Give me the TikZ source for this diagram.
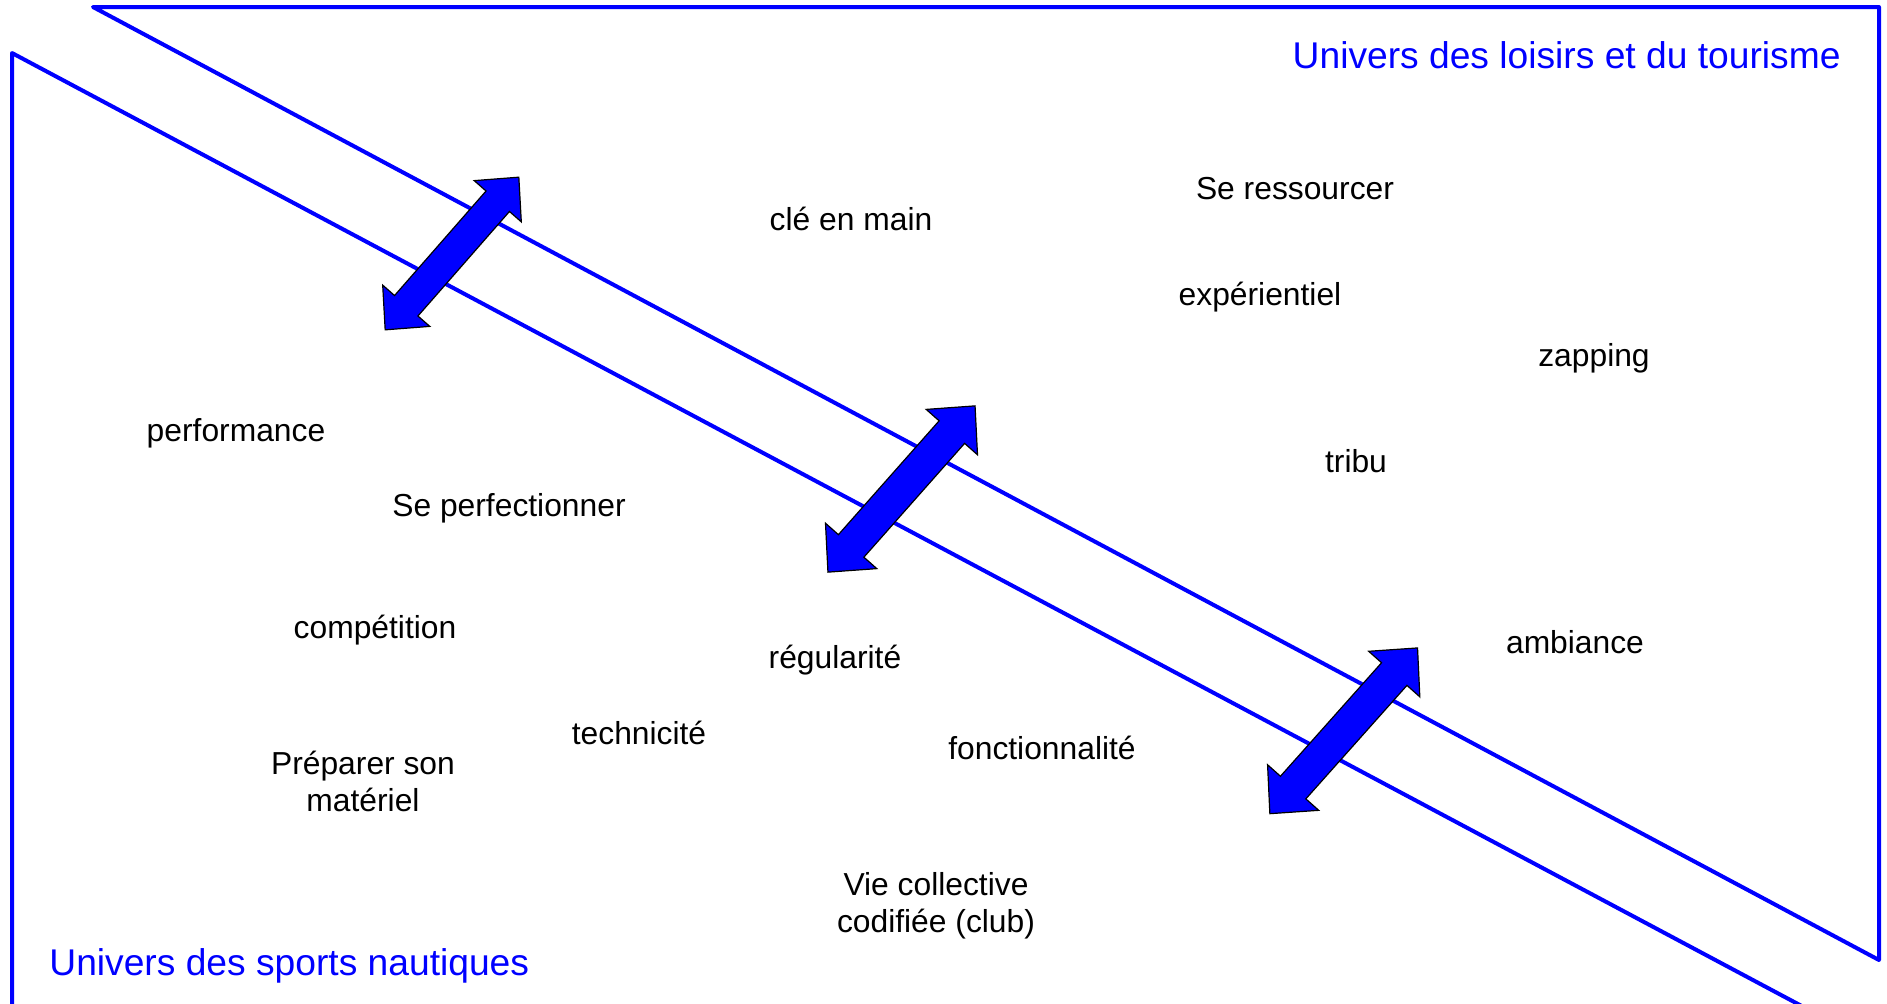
\documentclass[tikz,border=0pt]{standalone}
\usepackage{fontspec}
\setmainfont{Liberation Sans}
\definecolor{pblue}{RGB}{0,0,255}
\tikzset{
  frame/.style={draw=pblue, line width=2pt, line join=round},
  arrowshape/.style={fill=pblue, draw=black, line width=0.6pt, line join=miter},
  word/.style={inner sep=0pt, align=center, font=\fontsize{15.9}{18.5}\selectfont},
  title/.style={inner sep=0pt, text=pblue, font=\fontsize{18.6}{22}\selectfont},
  dblarrow/.pic={
    \path[arrowshape] (111,0) -- (76,34.25) -- (76,17) -- (-76,17) -- (-76,34.25)
      -- (-111,0) -- (-76,-34.25) -- (-76,-17) -- (76,-17) -- (76,-34.25) -- cycle;
  }
}
\begin{document}
\begin{tikzpicture}[x=0.5pt,y=-0.5pt]
\useasboundingbox (0,0) rectangle (1887,1003);
% frames
\coordinate (ua) at (93,7);
\coordinate (ub) at (1879,7);
\coordinate (uc) at (1879,960);
\draw[frame] (ua) -- (ub) -- (uc) -- cycle;
\coordinate (la) at (12,1012);
\coordinate (lb) at (12,53);
\coordinate (lc) at (1813,1012);
\draw[frame] (la) -- (lb) -- (lc);
% arrows
\pic (a1) [rotate=48.8, scale=0.914] at (452,253.5) {dblarrow};
\pic (a2) [rotate=48.5] at (901.5,489) {dblarrow};
\pic (a3) [rotate=48.3] at (1343.7,730.8) {dblarrow};
% titles
\node[title, anchor=east] (t1) at (1841,55) {Univers des loisirs et du tourisme};
\node[title, anchor=west] (t2) at (49,966) {Univers des sports nautiques};
% words
\node[word] (w1) at (851,219) {clé en main};
\node[word] (w2) at (1295,189) {Se ressourcer};
\node[word] (w3) at (1260,297) {expérientiel};
\node[word] (w4) at (1594,358) {zapping};
\node[word] (w5) at (236,433) {performance};
\node[word] (w6) at (1356,461) {tribu};
\node[word] (w7) at (509,508) {Se perfectionner};
\node[word] (w8) at (375,630) {compétition};
\node[word] (w9) at (835,660) {régularité};
\node[word] (w10) at (1575,642) {ambiance};
\node[word] (w11) at (639,733) {technicité};
\node[word] (w12) at (1042,748) {fonctionnalité};
\node[word] (w13) at (363,781) {Préparer son\\matériel};
\node[word] (w14) at (936,906) {Vie collective\\codifiée (club)};
\end{tikzpicture}
\end{document}
